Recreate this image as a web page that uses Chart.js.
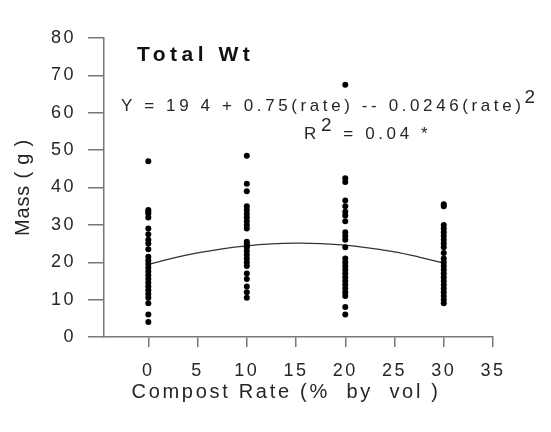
<!DOCTYPE html>
<html><head><meta charset="utf-8">
<script src="https://cdn.jsdelivr.net/npm/chart.js@4"></script>
<style>html,body{margin:0;padding:0;background:#fff;overflow:hidden}canvas{display:block}</style>
</head><body>
<canvas id="c" width="551" height="432"></canvas>
<script>
// ---- data ----
const compostRates = [0, 10, 20, 30];
const mass0  = [47, 34, 33.5, 33, 32, 29, 27.5, 26, 25, 23.5, 21.5, 20.5, 19.5, 18.5, 17.5, 16.5, 15.5, 14.5, 13.5, 12.5, 11.5, 10.5, 9, 6, 4];
const mass10 = [48.5, 41, 39, 35, 34, 33, 32, 31, 30, 29, 25.5, 25, 24.5, 24, 23, 22, 21, 20, 19, 17, 15.5, 13.5, 12, 10.5];
const mass20 = [67.5, 42.5, 41.5, 36.5, 35, 33.5, 32.5, 31, 28, 27, 26, 24, 21, 20, 19, 18, 17, 16, 15, 14, 13, 12, 11, 8, 6];
const mass30 = [35.5, 35, 30, 29, 28, 27, 26, 25, 24, 22.5, 21, 20, 19, 18, 17, 16, 15, 14, 13, 12, 11, 10, 9];
const fitRates = [0, 2.5, 5, 7.5, 10, 12.5, 15, 17.5, 20, 22.5, 25, 27.5, 30];
const fitMass  = [19.4, 21.1, 22.5, 23.6, 24.4, 24.9, 25.1, 25.0, 24.6, 23.8, 22.8, 21.4, 19.8];
const xTickLabels = [0, 5, 10, 15, 20, 25, 30, 35];
const yTickLabels = [0, 10, 20, 30, 40, 50, 60, 70, 80];
const panelTitle = 'Total Wt';
const equationText = 'Y = 19 4 + 0.75(rate) -- 0.0246(rate)';
const equationSup = '2';
const r2Label = 'R';
const r2Sup = '2';
const r2Value = '= 0.04 *';
const xTitle = 'Compost Rate (%  by  vol )';
const yTitle = 'Mass ( g )';

// ---- build datasets ----
const massByRate = [mass0, mass10, mass20, mass30];
const scatterPts = [];
compostRates.forEach((r, i) => massByRate[i].forEach(m => scatterPts.push({x: r, y: m})));
const fitPts = fitRates.map((r, i) => ({x: r, y: fitMass[i]}));

const FONT = "'Liberation Sans', Arial, Helvetica, sans-serif";
const TEXT = '#262626';
Chart.defaults.font.family = FONT;
Chart.defaults.color = TEXT;

// letter spacing for axis text
const origTitle = Chart.Scale.prototype.drawTitle;
Chart.Scale.prototype.drawTitle = function () {
  const c = this.ctx; const prev = c.letterSpacing;
  c.letterSpacing = this.axis === 'x' ? '2.7px' : '0.8px';
  origTitle.apply(this, arguments); c.letterSpacing = prev;
};
const origLabels = Chart.Scale.prototype.drawLabels;
Chart.Scale.prototype.drawLabels = function () {
  const c = this.ctx; const prev = c.letterSpacing; c.letterSpacing = '2.5px';
  origLabels.apply(this, arguments); c.letterSpacing = prev;
};

const annotations = {
  id: 'annotations',
  afterDraw(chart) {
    const ctx = chart.ctx;
    ctx.save();
    ctx.textBaseline = 'middle';
    ctx.textAlign = 'left';
    // panel title
    ctx.fillStyle = '#111';
    ctx.letterSpacing = '4.5px';
    ctx.font = 'bold 21px ' + FONT;
    ctx.fillText(panelTitle, 137, 55);
    // equation
    ctx.fillStyle = TEXT;
    ctx.letterSpacing = '3.6px';
    ctx.font = '17px ' + FONT;
    ctx.fillText(equationText, 121, 106);
    let w = ctx.measureText(equationText).width;
    ctx.font = '19px ' + FONT;
    ctx.fillText(equationSup, 121 + w, 98);
    // R2
    ctx.font = '17px ' + FONT;
    ctx.fillText(r2Label, 304, 134);
    w = ctx.measureText(r2Label).width;
    ctx.font = '19px ' + FONT;
    ctx.fillText(r2Sup, 304 + w + 1, 126);
    const w2 = ctx.measureText(r2Sup).width;
    ctx.font = '17px ' + FONT;
    ctx.fillText(' ' + r2Value, 304 + w + 1 + w2, 134);
    ctx.restore();
  }
};

new Chart(document.getElementById('c'), {
  type: 'scatter',
  data: {
    datasets: [
      { label: panelTitle, data: scatterPts, pointRadius: 3, pointBackgroundColor: '#000', pointBorderColor: '#000', pointBorderWidth: 0, showLine: false },
      { label: 'Fit', data: fitPts, showLine: true, pointRadius: 0, borderColor: '#333', borderWidth: 1.3, tension: 0.4, fill: false }
    ]
  },
  options: {
    responsive: false, animation: false, devicePixelRatio: 1,
    layout: { padding: { left: 0, right: 58, top: 38, bottom: 20 } },
    plugins: { legend: { display: false }, tooltip: { enabled: false }, title: { display: false } },
    scales: {
      x: {
        type: 'linear', position: 'bottom',
        min: -4.5, max: xTickLabels[xTickLabels.length - 1],
        afterFit: s => { s.height = 75; },
        ticks: { stepSize: xTickLabels[1] - xTickLabels[0], includeBounds: false, padding: 13, font: { size: 18 }, color: TEXT, maxRotation: 0, autoSkip: false },
        grid: { drawOnChartArea: false, tickLength: 10, color: '#777', lineWidth: 1.5 },
        border: { display: true, color: '#777', width: 1.5 },
        title: { display: true, text: xTitle + '   ', font: { size: 20 }, color: TEXT, padding: { top: 0, bottom: 8 } }
      },
      y: {
        type: 'linear',
        min: yTickLabels[0], max: yTickLabels[yTickLabels.length - 1],
        afterFit: s => { s.width = 104; },
        ticks: { stepSize: yTickLabels[1] - yTickLabels[0], padding: 12, font: { size: 18 }, color: TEXT, autoSkip: false },
        grid: { drawOnChartArea: false, tickLength: 16, color: '#777', lineWidth: 1.5 },
        border: { display: true, color: '#777', width: 1.5 },
        title: { display: true, text: yTitle, font: { size: 20 }, color: TEXT, padding: { top: 11, bottom: 0 } }
      }
    }
  },
  plugins: [annotations]
});
</script>
</body></html>
